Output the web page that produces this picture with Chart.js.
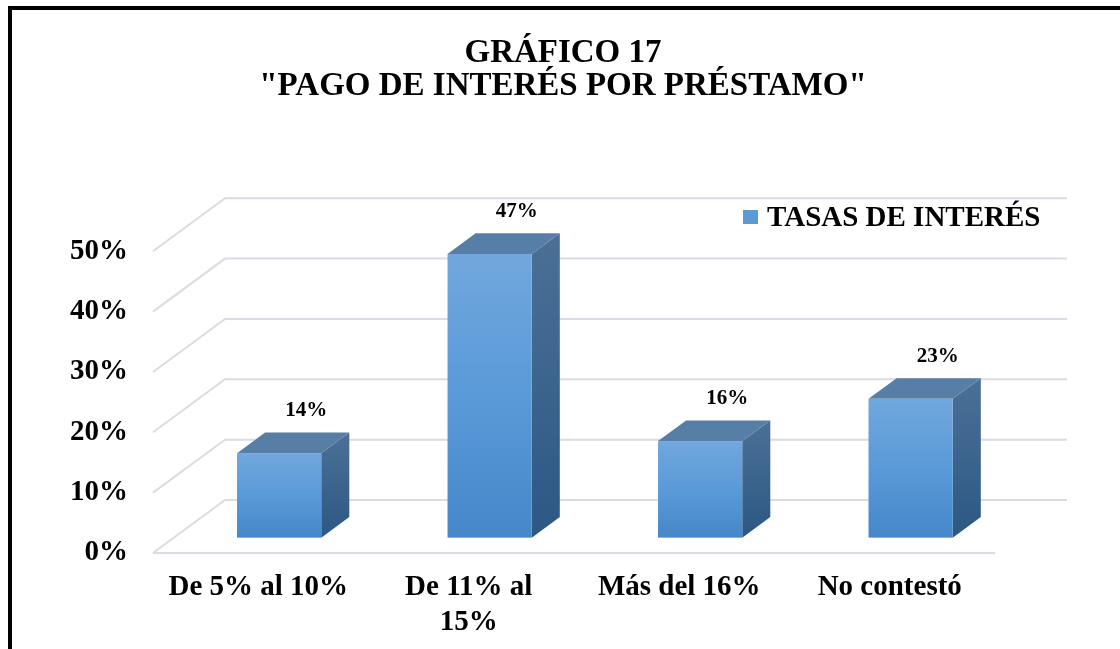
<!DOCTYPE html>
<html><head><meta charset="utf-8">
<script src="https://cdn.jsdelivr.net/npm/chart.js@4.4.0/dist/chart.umd.min.js"></script>
<style>html,body{margin:0;padding:0;background:#fff;overflow:hidden}</style>
</head><body>
<canvas id="c" width="1120" height="649"></canvas>
<script>
const categories = ['De 5% al 10%', ['De 11% al', '15%'], 'Más del 16%', 'No contestó'];
const values = [14, 47, 16, 23];
const seriesName = 'TASAS DE INTERÉS';
const titleLines = ['GRÁFICO 17', '"PAGO DE INTERÉS POR PRÉSTAMO"'];
const yTickValues = [0, 10, 20, 30, 40, 50];

const FONT = '"Liberation Serif", "Times New Roman", serif';
const DX = 72, DY = -53;      // depth of floor
const F0 = 0.29, FD = 0.39;   // bar position inside depth

Chart.defaults.font.family = FONT;
Chart.defaults.color = '#000';

const grid3d = {
  id: 'grid3d',
  beforeDatasetsDraw(chart) {
    const {ctx, chartArea: a, scales: {y}} = chart;
    ctx.save();
    ctx.strokeStyle = '#d9dce4';
    ctx.lineWidth = 2;
    yTickValues.forEach(v => {
      const yf = y.getPixelForValue(v);
      ctx.beginPath();
      ctx.moveTo(a.left, yf);
      ctx.lineTo(a.left + DX, yf + DY);
      ctx.lineTo(a.right + DX, yf + DY);
      ctx.stroke();
    });
    const y0 = y.getPixelForValue(0);
    ctx.beginPath();
    ctx.moveTo(a.left, y0);
    ctx.lineTo(a.right, y0);
    ctx.stroke();
    ctx.restore();
  }
};

const bars3d = {
  id: 'bars3d',
  afterDatasetsDraw(chart) {
    const {ctx} = chart;
    const meta = chart.getDatasetMeta(0);
    ctx.save();
    meta.data.forEach((bar, i) => {
      const p = bar.getProps(['x', 'y', 'base', 'width'], true);
      const ox = DX * F0, oy = DY * F0, dx = DX * FD, dy = DY * FD;
      const L = p.x - p.width / 2 + ox, R = p.x + p.width / 2 + ox;
      const T = p.y + oy, B = p.base + oy;
      // side face
      let g = ctx.createLinearGradient(0, T + dy, 0, B);
      g.addColorStop(0, '#4b7096');
      g.addColorStop(1, '#2c5884');
      ctx.fillStyle = g;
      ctx.beginPath();
      ctx.moveTo(R, T); ctx.lineTo(R + dx, T + dy); ctx.lineTo(R + dx, B + dy); ctx.lineTo(R, B);
      ctx.closePath(); ctx.fill();
      // top face
      ctx.fillStyle = '#577ea6';
      ctx.beginPath();
      ctx.moveTo(L, T); ctx.lineTo(L + dx, T + dy); ctx.lineTo(R + dx, T + dy); ctx.lineTo(R, T);
      ctx.closePath(); ctx.fill();
      // front face
      g = ctx.createLinearGradient(0, T, 0, B);
      g.addColorStop(0, '#71a7dd');
      g.addColorStop(0.5, '#5a9ad8');
      g.addColorStop(1, '#4587c9');
      ctx.fillStyle = g;
      ctx.fillRect(L, T, R - L, B - T);
      // data label
      ctx.fillStyle = '#000';
      ctx.font = 'bold 21px ' + FONT;
      ctx.textAlign = 'center';
      ctx.textBaseline = 'middle';
      ctx.fillText(values[i] + '%', (L + R) / 2 + 27, T + dy - 22);
    });
    ctx.restore();
  }
};

const legendFrame = {
  id: 'legendFrame',
  afterDraw(chart) {
    const {ctx} = chart;
    ctx.save();
    ctx.fillStyle = '#5b9bd5';
    ctx.fillRect(743, 210, 15, 14);
    ctx.fillStyle = '#000';
    ctx.font = 'bold 29px ' + FONT;
    ctx.textAlign = 'left';
    ctx.textBaseline = 'alphabetic';
    ctx.fillText(seriesName, 767, 226);
    ctx.strokeStyle = '#000';
    ctx.lineWidth = 4;
    ctx.strokeRect(10, 8, 1400, 900);
    ctx.restore();
  }
};

new Chart(document.getElementById('c'), {
  type: 'bar',
  data: {
    labels: categories,
    datasets: [{
      label: seriesName,
      data: values,
      backgroundColor: 'rgba(0,0,0,0)',
      borderWidth: 0,
      barPercentage: 0.4,
      categoryPercentage: 1
    }]
  },
  options: {
    responsive: false,
    animation: false,
    events: [],
    layout: {padding: {left: 6, right: 0, top: 0, bottom: 0}},
    plugins: {
      legend: {display: false},
      tooltip: {enabled: false},
      title: {
        display: true,
        text: titleLines,
        color: '#000',
        font: {size: 33, weight: 'bold', family: FONT, lineHeight: 1.01},
        padding: {top: 36.6, bottom: 148}
      }
    },
    scales: {
      x: {
        grid: {display: false, drawTicks: false},
        border: {display: false},
        ticks: {
          font: {size: 29, weight: 'bold', lineHeight: 1.2},
          color: '#000',
          padding: 17,
          maxRotation: 0,
          autoSkip: false
        },
        afterFit(s) { s.height = 96; }
      },
      y: {
        min: 0, max: 50,
        grid: {display: false, drawTicks: false},
        border: {display: false},
        ticks: {
          stepSize: 10,
          font: {size: 29, weight: 'bold'},
          color: '#000',
          padding: 25,
          callback: v => v + '%'
        },
        afterFit(s) { s.width = 147; }
      },
      yr: {
        position: 'right',
        display: true,
        grid: {display: false, drawTicks: false},
        border: {display: false},
        ticks: {display: false},
        afterFit(s) { s.width = 125; }
      }
    }
  },
  plugins: [grid3d, bars3d, legendFrame]
});
</script>
</body></html>
